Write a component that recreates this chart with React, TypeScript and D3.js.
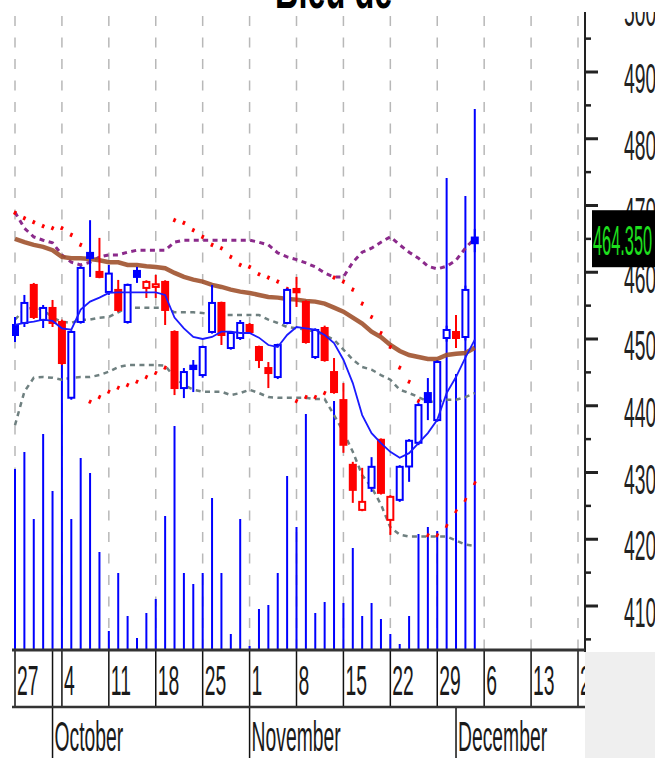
import * as React from 'react';
import * as d3 from 'd3';

// trading days run Mon-Fri from startDay to endDay
const startDay = new Date(2021, 8, 27);
const endDay = new Date(2021, 11, 3);
const axisEnd = new Date(2021, 11, 21);

const title = 'Bleu de';
const weekLabels = ['27', '4', '11', '18', '25', '1', '8', '15', '22', '29', '6', '13', '20'];
const monthLabels = ['October', 'November', 'December'];
const monthStarts = [new Date(2021, 9, 1), new Date(2021, 10, 1), new Date(2021, 11, 1)];
const priceTicks = [410, 420, 430, 440, 450, 460, 470, 480, 490, 500];
const minorTicks = [405, 415, 425, 435, 445, 455, 465, 475, 485, 495];
const lastPrice = 464.35;
const priorClose = 449.5;

const opens = [
  452.1, 452.4, 458.1, 452.85, 454.65, 452.55, 441.2, 452.55, 462.9, 460.05,
  457.05, 457.35, 452.55, 460.2, 457.65, 457.8, 458.55, 451.05, 442.65, 446.0,
  444.6, 451.05, 455.4, 448.65, 450.15, 452.1, 448.8, 445.65, 444.3, 452.4,
  457.5, 455.55, 447.3, 451.65, 445.05, 440.85, 431.15, 424.4, 427.7, 434.9,
  422.9, 425.9, 430.9, 434.45, 441.9, 437.85, 450.15, 451.05, 450.3, 465.2,
];
const highs = [
  453.3, 456.6, 458.4, 455.1, 455.85, 452.9, 451.3, 460.9, 467.8, 465.15,
  461.1, 458.85, 458.3, 460.8, 458.8, 459.6, 458.8, 451.3, 445.65, 446.85,
  449.0, 458.1, 455.6, 451.1, 452.85, 452.4, 449.0, 446.55, 449.3, 457.6,
  459.3, 455.8, 451.6, 452.0, 447.15, 443.4, 431.6, 430.7, 432.3, 435.1,
  426.6, 431.1, 435.0, 440.4, 444.15, 446.8, 452.0, 453.6, 458.0, 466.5,
];
const lows = [
  449.55, 451.8, 453.0, 451.65, 451.8, 446.1, 440.9, 452.3, 459.3, 459.1,
  456.6, 454.05, 452.3, 458.4, 456.15, 456.15, 452.1, 441.6, 441.15, 442.05,
  444.2, 450.8, 449.1, 448.4, 449.85, 450.8, 445.65, 442.65, 444.0, 452.2,
  454.8, 449.3, 447.0, 446.6, 441.8, 432.95, 425.45, 424.2, 427.1, 426.7,
  420.65, 425.6, 428.6, 434.1, 437.85, 437.6, 449.6, 448.65, 449.8, 463.0,
];
const closes = [
  450.6, 455.4, 453.3, 454.65, 452.4, 446.4, 451.05, 460.65, 462.15, 459.3,
  459.8, 454.35, 458.1, 459.3, 458.55, 458.2, 454.35, 442.65, 445.05, 445.5,
  448.8, 455.4, 450.6, 450.9, 452.4, 451.05, 446.85, 444.9, 449.1, 457.35,
  457.0, 449.55, 451.35, 446.85, 442.05, 434.15, 427.4, 425.6, 430.85, 426.95,
  426.35, 430.85, 434.75, 440.1, 440.55, 446.55, 451.35, 450.15, 457.35, 464.35,
];
const volumes = [
  1810, 1980, 1310, 2160, 1590, 3000, 1310, 1920, 1770, 980,
  190, 770, 340, 120, 370, 510, 1340, 2240, 770, 660,
  770, 1520, 770, 160, 1310, 40, 410, 450, 770, 1740,
  1230, 2360, 370, 480, 2490, 470, 1020, 340, 470, 310,
  160, 60, 340, 1160, 1230, 1190, 4720, 2760, 4540, 5410,
];
const maFast = [
  452.1, 452.4, 452.6, 452.9, 452.7, 451.6, 451.4, 454.4, 455.6, 456.2,
  456.9, 457.0, 457.0, 457.0, 457.0, 457.0, 456.6, 453.2, 451.6, 450.3,
  450.0, 450.3, 451.1, 451.1, 450.9, 450.9, 450.2, 449.1, 448.8, 450.6,
  451.8, 451.6, 451.4, 450.6, 449.4, 446.9, 443.4, 438.6, 435.9, 434.4,
  433.1, 432.2, 432.9, 434.4, 435.9, 437.9, 441.9, 444.3, 447.2, 449.9,
];
const maSlow = [
  465.0, 464.5, 464.1, 463.8, 463.3, 462.3, 462.1, 462.1, 462.0, 461.8,
  461.5, 461.5, 461.1, 461.1, 460.9, 460.8, 460.6, 459.9, 459.3, 458.9,
  458.6, 458.1, 457.8, 457.4, 457.1, 456.9, 456.6, 456.3, 456.2, 456.0,
  455.9, 455.7, 455.6, 455.3, 454.7, 454.1, 453.2, 452.3, 451.1, 450.3,
  449.1, 448.2, 447.6, 447.3, 447.0, 447.0, 447.6, 447.8, 447.9, 448.7,
];
const bandUpper = [
  469.0, 466.6, 465.3, 464.8, 464.4, 462.6, 461.5, 461.1, 461.5, 462.3,
  462.6, 462.6, 463.0, 463.3, 463.3, 463.3, 463.3, 464.5, 464.8, 464.8,
  464.8, 464.8, 464.8, 464.8, 464.8, 464.8, 464.5, 464.1, 462.9, 462.3,
  461.9, 461.4, 460.8, 459.9, 459.3, 459.3, 461.5, 463.0, 463.6, 464.5,
  465.3, 464.1, 463.0, 462.1, 460.9, 460.5, 460.9, 461.8, 463.6, 465.1,
];
const bandMid = [
  452.9, 454.4, 454.7, 454.4, 453.2, 452.6, 452.4, 452.9, 452.9, 453.2,
  453.3, 454.0, 454.7, 454.7, 454.7, 454.7, 454.7, 454.0, 454.0, 454.0,
  453.9, 453.6, 453.6, 453.6, 453.6, 453.6, 453.6, 452.9, 452.4, 451.8,
  451.6, 451.4, 451.1, 450.6, 449.9, 448.4, 446.9, 445.8, 445.4, 444.6,
  443.9, 442.4, 441.9, 441.3, 440.6, 440.6, 440.9, 440.9, 441.3, 441.9,
];
const bandLower = [
  437.1, 442.1, 444.2, 444.3, 444.2, 443.9, 444.2, 444.3, 444.3, 444.6,
  445.1, 445.8, 446.1, 446.1, 446.1, 446.1, 446.0, 444.3, 443.1, 442.4,
  442.1, 442.1, 442.1, 441.6, 441.9, 442.4, 441.9, 441.3, 441.2, 441.2,
  441.2, 441.2, 441.0, 441.0, 438.6, 436.1, 433.1, 429.6, 427.8, 425.2,
  421.8, 420.7, 420.4, 420.4, 420.4, 420.4, 420.4, 419.8, 419.2, 419.0,
];
const sar = [
  468.9, 468.1, 467.5, 466.9, 466.6, 466.6, 465.6, 464.1, 440.6, 441.3,
  442.1, 442.7, 443.1, 443.6, 444.3, 444.9, 445.7, 467.8, 467.4, 466.3,
  465.3, 464.1, 463.6, 462.3, 461.1, 460.8, 459.7, 459.2, 458.6, 457.5,
  440.7, 441.3, 441.3, 441.9, 459.2, 458.6, 457.4, 455.3, 453.3, 450.9,
  448.8, 445.7, 443.6, 440.7, 420.6, 420.6, 422.0, 424.2, 425.9, 428.4,
];

const W = 655;
const H = 758;
const plot = {left: 12, top: 12, right: 585, bottom: 650};
const axisFont = '"Liberation Sans", Arial, sans-serif';

export default function App() {
  const ref = React.useRef<SVGSVGElement>(null);

  React.useEffect(() => {
    const svg = d3.select(ref.current);
    svg.selectAll('*').remove();

    const days = d3.timeDay.range(startDay, d3.timeDay.offset(endDay, 1))
      .filter(d => d.getDay() !== 0 && d.getDay() !== 6);
    const tradeIndex = (d: Date) => {
      const n = d3.timeDay.count(startDay, d);
      return n - 2 * Math.floor(n / 7);
    };
    const mondays = d3.timeMonday.range(startDay, axisEnd);

    const x = d3.scaleLinear().domain([0, 60]).range([15, 578]);
    const y = d3.scaleLinear().domain([410, 490]).range([606, 72]);
    const v = d3.scaleLinear().domain([0, 5500]).range([plot.bottom, 100]);
    const xd = (d: Date) => x(tradeIndex(d));

    svg.append('rect').attr('width', W).attr('height', H).attr('fill', '#fff');

    const defs = svg.append('defs');
    defs.append('clipPath').attr('id', 'plotClip').append('rect')
      .attr('x', plot.left).attr('y', plot.top)
      .attr('width', plot.right - plot.left).attr('height', plot.bottom - plot.top);
    defs.append('clipPath').attr('id', 'axisClip').append('rect')
      .attr('x', plot.right).attr('y', plot.top)
      .attr('width', W - plot.right).attr('height', plot.bottom - plot.top);
    defs.append('clipPath').attr('id', 'dateClip').append('rect')
      .attr('x', plot.left).attr('y', plot.bottom)
      .attr('width', plot.right - plot.left).attr('height', H - plot.bottom);

    // title, mostly cut off by the top edge
    svg.append('text')
      .attr('transform', 'translate(275,8) scale(0.58,1)')
      .attr('font-family', axisFont).attr('font-weight', 'bold').attr('font-size', 56)
      .attr('fill', '#000').text(title);

    const g = svg.append('g').attr('clip-path', 'url(#plotClip)');

    // weekly grid
    g.selectAll('line.grid').data(mondays).join('line')
      .attr('class', 'grid')
      .attr('x1', d => xd(d)).attr('x2', d => xd(d))
      .attr('y1', 16).attr('y2', plot.bottom)
      .attr('stroke', '#b8b8b8').attr('stroke-width', 1.5)
      .attr('stroke-dasharray', '10 11.5');

    // volume
    g.selectAll('line.vol').data(volumes).join('line')
      .attr('class', 'vol')
      .attr('x1', (d, i) => xd(days[i])).attr('x2', (d, i) => xd(days[i]))
      .attr('y1', v(0)).attr('y2', d => v(d))
      .attr('stroke', '#0000ff').attr('stroke-width', 2);

    const line = (arr: number[]) => d3.line<number>()
      .x((d, i) => xd(days[i]))
      .y(d => y(d))(arr);

    g.append('path').attr('d', line(bandUpper))
      .attr('fill', 'none').attr('stroke', '#8b2a8b').attr('stroke-width', 3)
      .attr('stroke-dasharray', '5 4.4');
    g.append('path').attr('d', line(bandMid))
      .attr('fill', 'none').attr('stroke', '#6f8080').attr('stroke-width', 2.5)
      .attr('stroke-dasharray', '5 4.4');
    g.append('path').attr('d', line(bandLower))
      .attr('fill', 'none').attr('stroke', '#6f8080').attr('stroke-width', 2.5)
      .attr('stroke-dasharray', '5 4.4');
    g.append('path').attr('d', line(maSlow))
      .attr('fill', 'none').attr('stroke', '#a0522d').attr('stroke-width', 4.5)
      .attr('stroke-opacity', 0.9);

    // parabolic SAR
    g.selectAll('path.sar').data(sar).join('path')
      .attr('class', 'sar')
      .attr('d', (d, i) => {
        const cx = xd(days[i]);
        const cy = y(d);
        return `M${cx - 0.8},${cy + 1.8}L${cx + 0.8},${cy - 1.8}`;
      })
      .attr('stroke', '#ff0000').attr('stroke-width', 2.6).attr('stroke-linecap', 'butt');

    // candles
    const candles = days.map((d, i) => ({
      d, o: opens[i], h: highs[i], l: lows[i], c: closes[i],
      prev: i ? closes[i - 1] : priorClose,
    }));
    const colorOf = (k: typeof candles[0]) => (k.c >= k.prev ? '#0000ff' : '#ff0000');
    const cg = g.append('g').selectAll('g').data(candles).join('g');
    cg.append('line')
      .attr('x1', k => xd(k.d)).attr('x2', k => xd(k.d))
      .attr('y1', k => y(k.h)).attr('y2', k => y(k.l))
      .attr('stroke', colorOf).attr('stroke-width', 2);
    cg.append('rect')
      .attr('x', k => xd(k.d) - 3).attr('width', 6)
      .attr('y', k => y(Math.max(k.o, k.c)))
      .attr('height', k => Math.max(1.5, Math.abs(y(k.o) - y(k.c))))
      .attr('fill', k => (k.c < k.o ? colorOf(k) : '#fff'))
      .attr('stroke', colorOf).attr('stroke-width', 2);

    g.append('path').attr('d', line(maFast))
      .attr('fill', 'none').attr('stroke', '#1a1aff').attr('stroke-width', 1.8);

    // right price axis
    svg.append('line')
      .attr('x1', plot.right).attr('x2', plot.right)
      .attr('y1', plot.top).attr('y2', plot.bottom + 2)
      .attr('stroke', '#222').attr('stroke-width', 2);
    const ax = svg.append('g').attr('clip-path', 'url(#axisClip)');
    ax.selectAll('line.major').data(priceTicks).join('line')
      .attr('class', 'major')
      .attr('x1', plot.right).attr('x2', plot.right + 13)
      .attr('y1', d => y(d)).attr('y2', d => y(d))
      .attr('stroke', '#222').attr('stroke-width', 3);
    ax.selectAll('line.minor').data(minorTicks).join('line')
      .attr('class', 'minor')
      .attr('x1', plot.right).attr('x2', plot.right + 6)
      .attr('y1', d => y(d)).attr('y2', d => y(d))
      .attr('stroke', '#222').attr('stroke-width', 2.5);
    ax.selectAll('text').data(priceTicks).join('text')
      .attr('transform', d => `translate(624,${y(d) + 21}) scale(0.46,1)`)
      .attr('font-family', axisFont).attr('font-size', 42).attr('fill', '#222')
      .text(d => d);

    // last price flag
    svg.append('rect')
      .attr('x', 592).attr('y', y(lastPrice) - 33)
      .attr('width', W - 592).attr('height', 57)
      .attr('fill', '#000');
    svg.append('text')
      .attr('transform', `translate(593,${y(lastPrice) + 12}) scale(0.39,1)`)
      .attr('font-family', axisFont).attr('font-size', 42).attr('fill', '#1ee01e')
      .text(d3.format('.3f')(lastPrice));

    // date axis
    svg.append('rect')
      .attr('x', plot.right).attr('y', plot.bottom + 2)
      .attr('width', W - plot.right).attr('height', H - plot.bottom - 2)
      .attr('fill', '#efefef');
    const dx = svg.append('g').attr('clip-path', 'url(#dateClip)');
    dx.selectAll('line.wk').data(mondays).join('line')
      .attr('class', 'wk')
      .attr('x1', d => xd(d)).attr('x2', d => xd(d))
      .attr('y1', plot.bottom).attr('y2', 707)
      .attr('stroke', '#111').attr('stroke-width', 1.5);
    dx.selectAll('text.wk').data(mondays).join('text')
      .attr('class', 'wk')
      .attr('transform', d => `translate(${xd(d) + 2},695) scale(0.46,1)`)
      .attr('font-family', axisFont).attr('font-size', 42).attr('fill', '#1a1a1a')
      .text((d, i) => weekLabels[i]);
    dx.selectAll('line.mo').data(monthStarts).join('line')
      .attr('class', 'mo')
      .attr('x1', d => xd(d)).attr('x2', d => xd(d))
      .attr('y1', (d, i) => (i === 0 ? plot.bottom : 707)).attr('y2', H)
      .attr('stroke', '#111').attr('stroke-width', 1.5);
    dx.selectAll('text.mo').data(monthStarts).join('text')
      .attr('class', 'mo')
      .attr('transform', d => `translate(${xd(d) + 2},751) scale(0.46,1)`)
      .attr('font-family', axisFont).attr('font-size', 42).attr('fill', '#1a1a1a')
      .text((d, i) => monthLabels[i]);
    svg.append('line')
      .attr('x1', plot.left).attr('x2', plot.right)
      .attr('y1', plot.bottom).attr('y2', plot.bottom)
      .attr('stroke', '#333').attr('stroke-width', 3);
    svg.append('line')
      .attr('x1', plot.left).attr('x2', plot.right)
      .attr('y1', 707).attr('y2', 707)
      .attr('stroke', '#333').attr('stroke-width', 2.5);
  }, []);

  return (
    <svg ref={ref} width={W} height={H}
      style={{position: 'absolute', left: 0, top: 0, display: 'block'}} />
  );
}
